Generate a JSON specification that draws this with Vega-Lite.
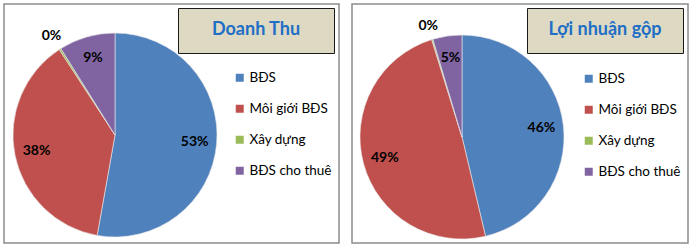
{
  "$schema": "https://vega.github.io/schema/vega-lite/v6.json",
  "padding": {"left": 3, "top": 3, "right": 0, "bottom": 0},
  "background": "white",
  "config": {
    "view": {"stroke": "#8c8c8c", "strokeWidth": 1.5},
    "style": {"view": {"stroke": "#8c8c8c", "strokeWidth": 1.5}, "cell": {"stroke": "#8c8c8c", "strokeWidth": 1.5}},
    "font": "Lato"
  },
  "spacing": 11,
  "resolve": {"scale": {"color": "independent", "shape": "independent", "theta": "independent"}, "legend": {"color": "independent", "shape": "independent"}},
  "hconcat": [
    {
      "width": 335,
      "height": 239,
      "view": {"stroke": "#8c8c8c", "strokeWidth": 1.5},
      "data": {"values": [
        {"idx": 1, "cat": "BĐS", "value": 52.8, "label": "53%"},
        {"idx": 2, "cat": "Môi giới BĐS", "value": 38.0, "label": "38%"},
        {"idx": 3, "cat": "Xây dựng", "value": 0.3, "label": "0%"},
        {"idx": 4, "cat": "BĐS cho thuê", "value": 8.9, "label": "9%"}
      ]},
      "encoding": {
        "theta": {"field": "value", "type": "quantitative", "stack": true},
        "order": {"field": "idx", "type": "quantitative"}
      },
      "layer": [
        {
          "mark": {"type": "arc", "x": 111, "y": 131, "outerRadius": 102, "stroke": "#e8e8e8", "strokeWidth": 0.6},
          "encoding": {
            "color": {
              "field": "cat", "type": "nominal",
              "scale": {"domain": ["BĐS", "Môi giới BĐS", "Xây dựng", "BĐS cho thuê"], "range": ["#4f81bd", "#c0504d", "#9bbb59", "#8064a2"]},
              "sort": null,
              "legend": {"title": null, "orient": "none", "legendX": 229, "legendY": 67, "symbolType": "square", "symbolSize": 64, "symbolStrokeWidth": 0, "labelFont": "Lato", "labelFontSize": 13.5, "labelColor": "#000", "labelOffset": 3, "rowPadding": 16}
            }
          }
        },
        {
          "mark": {"type": "text", "x": 111, "y": 131, "font": "Lato", "fontWeight": "bold", "fontSize": 14, "color": "#000"},
          "encoding": {
            "text": {"field": "label"},
            "radius": {"value": {"expr": "datum.cat === 'Xây dựng' ? 118 : 80"}}
          }
        },
        {
          "mark": {"type": "point", "opacity": 0, "size": 1},
          "encoding": {
            "theta": null,
            "order": null,
            "shape": {"datum": "t", "legend": {"title": "Doanh Thu", "orient": "none", "legendX": 174, "legendY": 4, "fillColor": "#ddd9c3", "strokeColor": "#1a1a1a", "padding": 13, "titleFont": "Lato", "titleFontSize": 18, "titleFontWeight": "bold", "titleColor": "#1f6fc6", "titleAnchor": "middle", "titlePadding": 0, "labelExpr": "''", "labelFontSize": 1, "symbolSize": 0, "symbolOpacity": 0, "symbolStrokeWidth": 0, "labelOffset": 129}}
          }
        }
      ]
    },
    {
      "width": 336,
      "height": 239,
      "view": {"stroke": "#8c8c8c", "strokeWidth": 1.5},
      "data": {"values": [
        {"idx": 1, "cat": "BĐS", "value": 46.3, "label": "46%"},
        {"idx": 2, "cat": "Môi giới BĐS", "value": 48.9, "label": "49%"},
        {"idx": 3, "cat": "Xây dựng", "value": 0.2, "label": "0%"},
        {"idx": 4, "cat": "BĐS cho thuê", "value": 4.6, "label": "5%"}
      ]},
      "encoding": {
        "theta": {"field": "value", "type": "quantitative", "stack": true},
        "order": {"field": "idx", "type": "quantitative"}
      },
      "layer": [
        {
          "mark": {"type": "arc", "x": 110, "y": 133, "outerRadius": 102, "stroke": "#e8e8e8", "strokeWidth": 0.6},
          "encoding": {
            "color": {
              "field": "cat", "type": "nominal",
              "scale": {"domain": ["BĐS", "Môi giới BĐS", "Xây dựng", "BĐS cho thuê"], "range": ["#4f81bd", "#c0504d", "#9bbb59", "#8064a2"]},
              "sort": null,
              "legend": {"title": null, "orient": "none", "legendX": 230, "legendY": 68, "symbolType": "square", "symbolSize": 64, "symbolStrokeWidth": 0, "labelFont": "Lato", "labelFontSize": 13.5, "labelColor": "#000", "labelOffset": 3, "rowPadding": 16}
            }
          }
        },
        {
          "mark": {"type": "text", "x": 110, "y": 133, "font": "Lato", "fontWeight": "bold", "fontSize": 14, "color": "#000"},
          "encoding": {
            "text": {"field": "label"},
            "radius": {"value": {"expr": "datum.cat === 'Xây dựng' ? 116 : 80"}}
          }
        },
        {
          "mark": {"type": "point", "opacity": 0, "size": 1},
          "encoding": {
            "theta": null,
            "order": null,
            "shape": {"datum": "t", "legend": {"title": "Lợi nhuận gộp", "orient": "none", "legendX": 175, "legendY": 4, "fillColor": "#ddd9c3", "strokeColor": "#1a1a1a", "padding": 13, "titleFont": "Lato", "titleFontSize": 18, "titleFontWeight": "bold", "titleColor": "#1f6fc6", "titleAnchor": "middle", "titlePadding": 0, "labelExpr": "''", "labelFontSize": 1, "symbolSize": 0, "symbolOpacity": 0, "symbolStrokeWidth": 0, "labelOffset": 129}}
          }
        }
      ]
    }
  ]
}
